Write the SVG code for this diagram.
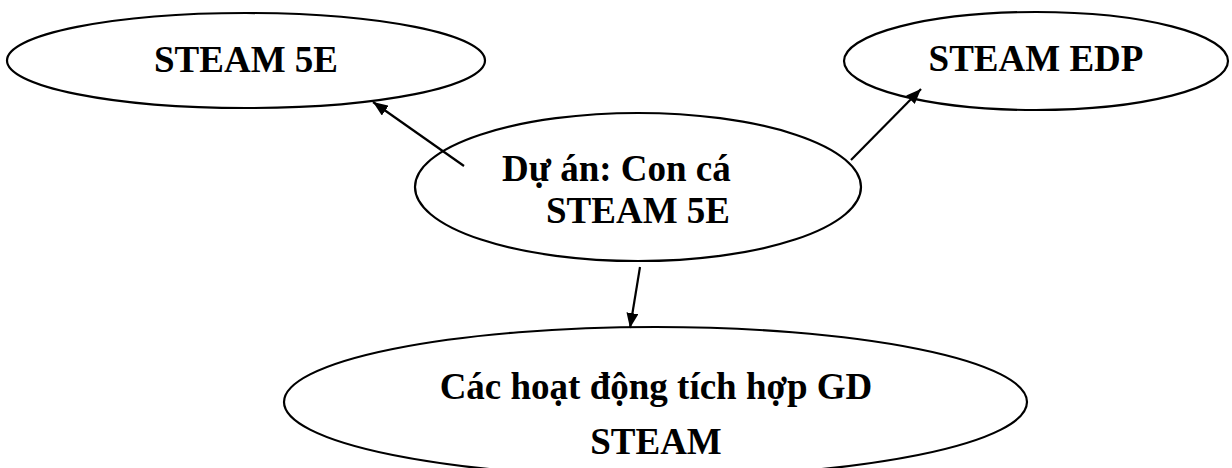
<svg xmlns="http://www.w3.org/2000/svg" width="1232" height="468" viewBox="0 0 1232 468">
<style>
.node ellipse{fill:#fff;stroke:#000;stroke-width:2.2}
.lbl{font-family:"Liberation Serif","Times New Roman",serif;font-weight:bold;font-size:37px;fill:#000}
.edge{stroke:#000;stroke-width:2.2;fill:none;marker-end:url(#ah)}
</style>
<defs>
<marker id="ah" viewBox="0 0 15 12" refX="15" refY="6" markerWidth="15" markerHeight="12" markerUnits="userSpaceOnUse" orient="auto">
<path d="M0,0 L15,6 L0,12 z" fill="#000"/>
</marker>
</defs>
<rect width="1232" height="468" fill="#fff"/>
<g id="n-steam5e" class="node">
<ellipse cx="246" cy="60.5" rx="239" ry="47.5"/>
<text class="lbl" x="246" y="72" text-anchor="middle">STEAM 5E</text>
</g>
<g id="n-steamedp" class="node">
<ellipse cx="1036" cy="61" rx="192" ry="49"/>
<text class="lbl" x="1036" y="71" text-anchor="middle">STEAM EDP</text>
</g>
<g id="n-bottom" class="node">
<ellipse cx="655.5" cy="402" rx="371.5" ry="75"/>
<text class="lbl" x="656" y="399" text-anchor="middle">Các hoạt động tích hợp GD</text>
<text class="lbl" x="656" y="454" text-anchor="middle">STEAM</text>
</g>
<g id="n-center" class="node">
<ellipse cx="638" cy="187" rx="223" ry="74"/>
<text class="lbl" x="502" y="181">Dự án: Con cá</text>
<text class="lbl" x="546" y="223">STEAM 5E</text>
</g>
<g id="connectors">
<line class="edge" x1="464" y1="166" x2="373" y2="102"/>
<line class="edge" x1="851" y1="160" x2="921" y2="89"/>
<line class="edge" x1="640" y1="267" x2="630" y2="328"/>
</g>
</svg>
